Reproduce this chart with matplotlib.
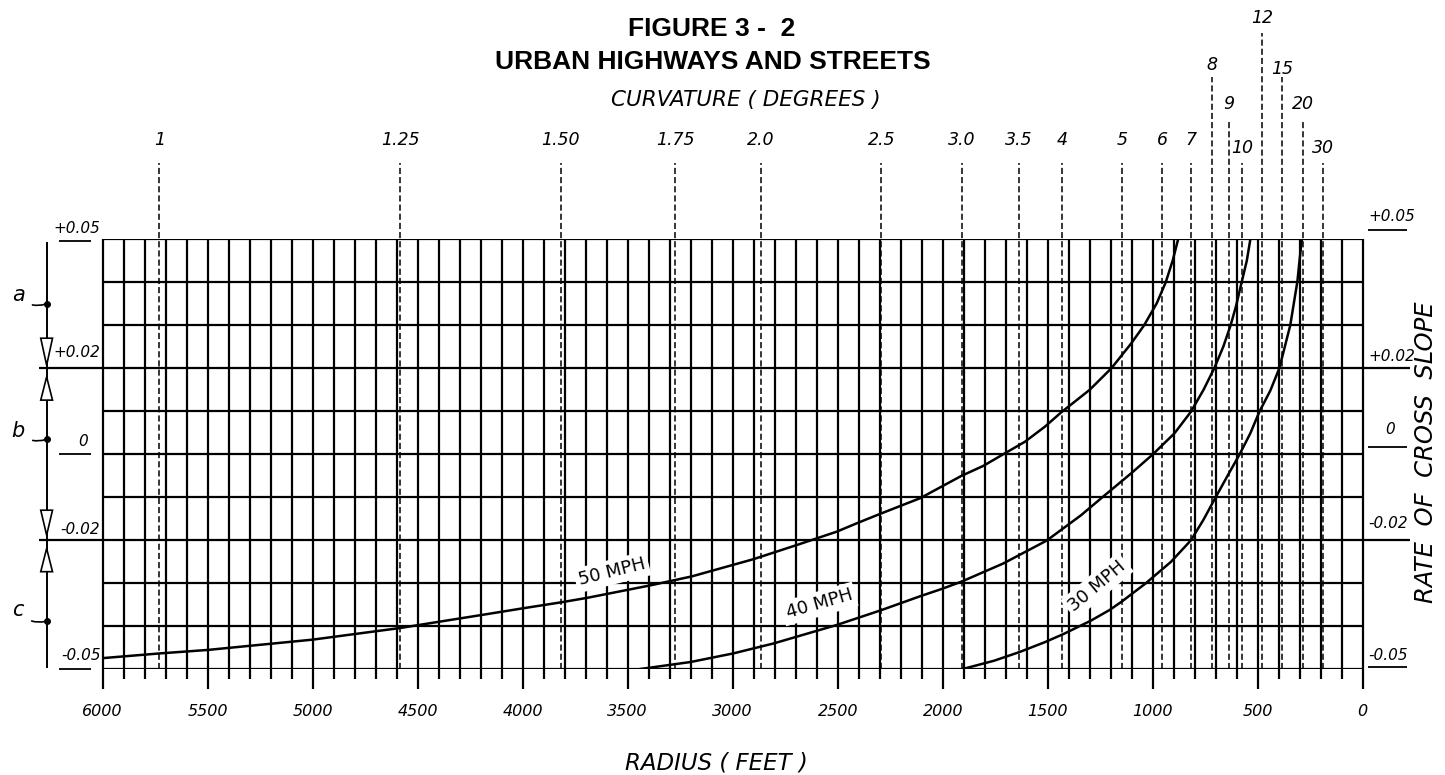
import numpy as np
import matplotlib.pyplot as plt

# radius axis (feet), slope axis
radius_ticks = [6000, 5500, 5000, 4500, 4000, 3500, 3000, 2500, 2000, 1500, 1000, 500, 0]

# degree of curvature lines (arc definition, R = 5729.58 / D)
curv_deg = [1, 1.25, 1.5, 1.75, 2.0, 2.5, 3.0, 3.5, 4, 5, 6, 7, 8, 9, 10, 12, 15, 20, 30]
curv_labels = ['1', '1.25', '1.50', '1.75', '2.0', '2.5', '3.0', '3.5', '4', '5', '6', '7',
               '8', '9', '10', '12', '15', '20', '30']

# cross slope curves (radius ft, cross slope)
r50 = [6000, 5727, 5500, 5000, 4584, 4393, 4187, 3997, 3814, 3695, 3394, 3195, 2902, 2695,
       2505, 2402, 2290, 2107, 2005, 1910, 1807, 1712, 1609, 1514, 1437, 1300, 1197, 1102,
       1041, 981, 938, 904, 879]
e50 = [-0.0474, -0.0463, -0.0455, -0.0431, -0.0404, -0.0389, -0.0373, -0.0358, -0.0344,
       -0.0334, -0.0305, -0.0284, -0.0244, -0.0211, -0.0180, -0.0159, -0.0137, -0.0102,
       -0.0075, -0.0050, -0.0027, 0.0, 0.0029, 0.0064, 0.0097, 0.0150, 0.0200, 0.0258,
       0.0300, 0.0351, 0.0400, 0.0452, 0.0500]

r40 = [3450, 3200, 2997, 2806, 2505, 2290, 2107, 2004, 1910, 1712, 1506, 1342, 1240, 1102,
       999, 896, 818, 758, 707, 664, 629, 603, 578, 552, 535]
e40 = [-0.0500, -0.0483, -0.0463, -0.0440, -0.0397, -0.0362, -0.0330, -0.0313, -0.0296,
       -0.0254, -0.0201, -0.0142, -0.0100, -0.0044, 0.0, 0.0049, 0.0099, 0.0150, 0.0200,
       0.0250, 0.0300, 0.0345, 0.0397, 0.0450, 0.0500]

r30 = [1910, 1755, 1635, 1514, 1425, 1295, 1205, 1146, 1033, 913, 818, 758, 707, 638, 586,
       535, 491, 440, 397, 371, 345, 328, 311, 302, 290]
e30 = [-0.0500, -0.0480, -0.0460, -0.0437, -0.0418, -0.0387, -0.0362, -0.0342, -0.0300,
       -0.0250, -0.0200, -0.0152, -0.0106, -0.0045, 0.0, 0.0049, 0.0100, 0.0148, 0.0200,
       0.0250, 0.0300, 0.0351, 0.0402, 0.0445, 0.0500]

W, H = 1445, 775
fig = plt.figure(figsize=(W / 100, H / 100), dpi=100)
# axes = the grid itself, everything else drawn around it with clip_on=False
ax = fig.add_axes([102.7 / W, (H - 669.3) / H, 1260 / W, 430 / H])
ax.set_xlim(6000, 0)
ax.set_ylim(-0.05, 0.05)
ax.axis('off')

K = 'black'
GRID_LW = 1.6
ital = dict(fontstyle='italic', family='DejaVu Sans', color=K)

# grid: vertical every 100 ft (long tick each 500 ft), horizontal every 0.01
vx = np.arange(0, 6001, 100)
long_x = [x for x in vx if x % 500 == 0]
short_x = [x for x in vx if x % 500 != 0]
ax.vlines(short_x, -0.0523, 0.05, color=K, lw=GRID_LW, clip_on=False, zorder=1)
ax.vlines(long_x, -0.0545, 0.05, color=K, lw=GRID_LW, clip_on=False, zorder=1)
ax.hlines(np.linspace(-0.05, 0.05, 11), 0, 6000, color=K, lw=GRID_LW, zorder=1)

# curvature (degree) dashed lines + labels, some labels stacked higher
curv_r = [5729.58 / d for d in curv_deg]
label_y = {'8': 0.0905, '15': 0.0895, '12': 0.1014, '9': 0.0815, '20': 0.0815,
           '10': 0.0713, '30': 0.0713}
dash_top = {'8': 0.0877, '15': 0.0877, '12': 0.098, '9': 0.0777, '20': 0.0777}
for r, lab in zip(curv_r, curv_labels):
    top = dash_top.get(lab, 0.0677)
    ax.vlines(r, -0.05, top, color=K, lw=1.1, linestyles=(0, (4, 2)), clip_on=False, zorder=1)
    ax.text(r, label_y.get(lab, 0.0731), lab, ha='center', va='center', fontsize=12.5, **ital)

# curves
for r, e in [(r50, e50), (r40, e40), (r30, e30)]:
    ax.plot(r, e, color=K, lw=1.8, zorder=3, solid_capstyle='round', solid_joinstyle='round')

box = dict(fc='white', ec='none', pad=2.5)
ax.text(3575, -0.0274, '50 MPH', rotation=14, ha='center', va='center', fontsize=13,
        bbox=box, zorder=2, color=K)
ax.text(2589, -0.0348, '40 MPH', rotation=16, ha='center', va='center', fontsize=13,
        bbox=box, zorder=2, color=K)
ax.text(1265, -0.0306, '30 MPH', rotation=40, ha='center', va='center', fontsize=13,
        bbox=box, zorder=2, color=K)

# radius tick labels
for r in radius_ticks:
    ax.text(r, -0.0597, str(r), ha='center', va='center', fontsize=11.5, **ital)

# left side: slope labels, underlines and extended lines
ax.text(6010, 0.0524, '+0.05', ha='right', va='center', fontsize=11, **ital)
ax.text(6013, 0.0236, '+0.02', ha='right', va='center', fontsize=11, **ital)
ax.text(6093, 0.0029, '0', ha='center', va='center', fontsize=11, **ital)
ax.text(6013, -0.0176, '-0.02', ha='right', va='center', fontsize=11, **ital)
ax.text(6010, -0.0467, '-0.05', ha='right', va='center', fontsize=11, **ital)
ax.hlines([0.0496, 0.0, -0.05], 6208, 6055, color=K, lw=1.3, clip_on=False)
ax.hlines([0.02, -0.02], 6302, 6000, color=K, lw=GRID_LW, clip_on=False)

# left side: a / b / c range marker
ax.vlines(6267, -0.0496, 0.0494, color=K, lw=1.4, clip_on=False)
dots = [('a', 0.035, 0.037), ('b', 0.0035, 0.0055), ('c', -0.0388, -0.0362)]
for lab, yd, yl in dots:
    ax.plot(6267, yd, 'o', ms=4, color=K, clip_on=False, zorder=4)
    ax.annotate(lab, xy=(6267, yd), xytext=(6403, yl), ha='center', va='center',
                fontsize=15, annotation_clip=False, **ital,
                arrowprops=dict(arrowstyle='-', color=K, lw=1.2,
                                connectionstyle='arc3,rad=0.35', shrinkA=4, shrinkB=1))

# open triangles pointing at the +0.02 / -0.02 lines
hw = 28
tris = [(0.027, 0.0207), (0.0126, 0.018), (-0.0130, -0.0188), (-0.0273, -0.0219)]
for base, apex in tris:
    ax.fill([6267 - hw, 6267 + hw, 6267], [base, base, apex], fc='white', ec=K, lw=1.2,
            clip_on=False, zorder=4)

# right side labels
ax.text(-25, 0.0553, '+0.05', ha='left', va='center', fontsize=11, **ital)
ax.text(-25, 0.0227, '+0.02', ha='left', va='center', fontsize=11, **ital)
ax.text(-130, 0.0057, '0', ha='center', va='center', fontsize=11, **ital)
ax.text(-25, -0.016, '-0.02', ha='left', va='center', fontsize=11, **ital)
ax.text(-25, -0.0467, '-0.05', ha='left', va='center', fontsize=11, **ital)
ax.hlines([0.0522, 0.0018, -0.0494], -25, -212, color=K, lw=1.3, clip_on=False)
ax.hlines([0.02, -0.02], 0, -225, color=K, lw=GRID_LW, clip_on=False)
ax.text(-300, 0.0005, 'RATE  OF  CROSS  SLOPE', rotation=90, ha='center', va='center',
        fontsize=17.5, **ital)

# titles
bold = dict(family='Liberation Sans', fontweight='bold', fontsize=19, ha='center', va='center')
fig.text(712 / W, 1 - 29.5 / H, 'FIGURE 3 -  2', **bold)
fig.text(713 / W, 1 - 62 / H, 'URBAN HIGHWAYS AND STREETS', **bold)
fig.text(746 / W, 1 - 100 / H, 'CURVATURE ( DEGREES )', ha='center', va='center',
         fontsize=15.5, **ital)
fig.text(716 / W, 1 - 763 / H, 'RADIUS ( FEET )', ha='center', va='center',
         fontsize=16.5, **ital)

fig.savefig('out.png', dpi=100, facecolor='white')
